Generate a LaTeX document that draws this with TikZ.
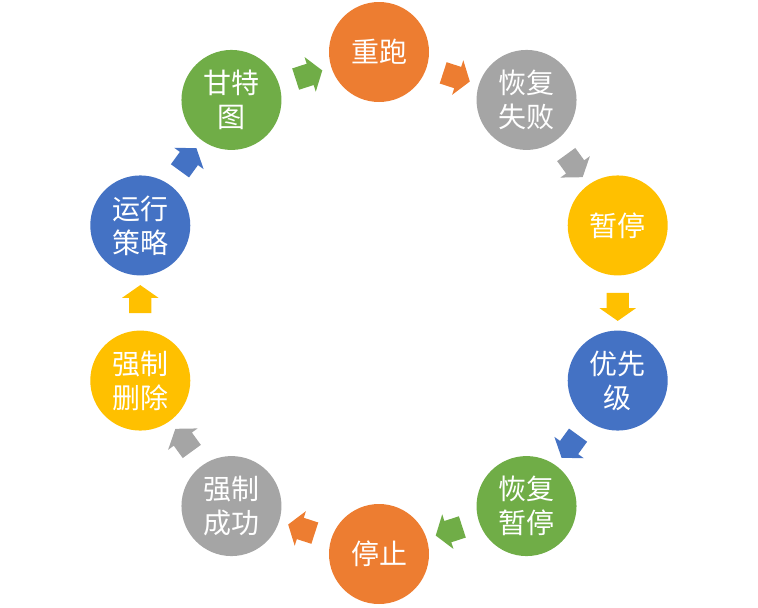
\documentclass[tikz,border=0pt]{standalone}
\usepackage{fontspec}
\usetikzlibrary{shapes.arrows}
\newfontfamily\cjk{Noto Sans CJK SC}
\definecolor{stageorange}{RGB}{237,125,49}
\definecolor{stagegray}{RGB}{165,165,165}
\definecolor{stageyellow}{RGB}{255,192,0}
\definecolor{stageblue}{RGB}{68,114,196}
\definecolor{stagegreen}{RGB}{112,173,71}

\begin{document}
\begin{tikzpicture}[x=1pt, y=-1pt,
		stage/.style={circle, fill=#1, minimum size=100pt, inner sep=0pt, text=white,
		              align=center, font=\cjk\fontsize{28}{34}\selectfont},
		flow/.style={single arrow, fill=#1, inner xsep=0pt, inner ysep=11pt,
		             minimum height=28pt, minimum width=36pt, single arrow head extend=7pt,
		             single arrow tip angle=110, sloped, allow upside down, anchor=center}]
		\useasboundingbox (0,0) rectangle (758,608);
		\foreach \i/\nm/\col/\txt in {0/rerun/stageorange/{重跑}, 1/failback/stagegray/{恢复\\失败},
				2/pause/stageyellow/{暂停}, 3/prio/stageblue/{优先\\级},
				4/resume/stagegreen/{恢复\\暂停}, 5/halt/stageorange/{停止},
				6/forceok/stagegray/{强制\\成功}, 7/forcedel/stageyellow/{强制\\删除},
				8/policy/stageblue/{运行\\策略}, 9/gantt/stagegreen/{甘特\\图}}
			\node[stage=\col] (\nm) at ({379+251*cos(90-36*\i)}, {303-251*sin(90-36*\i)}) {\txt};
		\foreach \a/\b/\col in {rerun/failback/stageorange, failback/pause/stagegray,
				pause/prio/stageyellow, prio/resume/stageblue, resume/halt/stagegreen,
				halt/forceok/stageorange, forceok/forcedel/stagegray,
				forcedel/policy/stageyellow, policy/gantt/stageblue, gantt/rerun/stagegreen}
			\path (\a) -- node[flow=\col] {} (\b);
	\end{tikzpicture}
\end{document}
